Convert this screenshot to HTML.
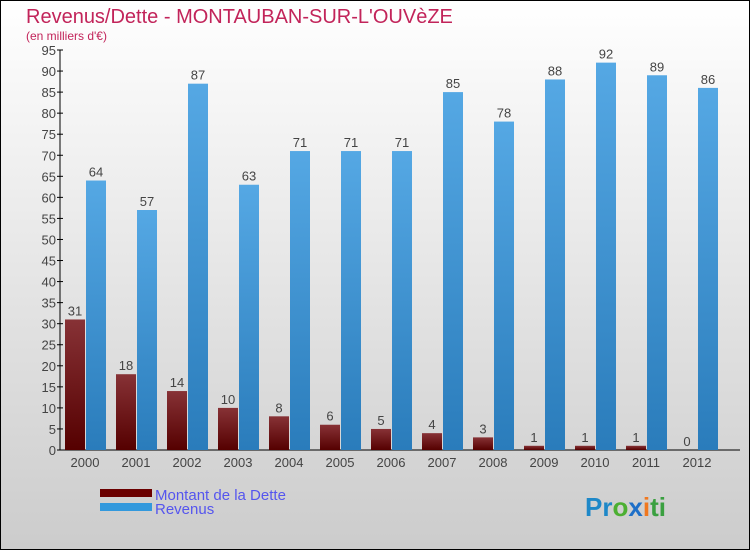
<!DOCTYPE html>
<html><head><meta charset="utf-8">
<style>
body{margin:0;}
#chart{position:relative;width:750px;height:550px;}
text{font-family:"Liberation Sans",sans-serif;}
</style></head>
<body>
<div id="chart">
<svg id="svg" width="750" height="550" xmlns="http://www.w3.org/2000/svg">
<defs>
<linearGradient id="bg" x1="0" y1="0" x2="0" y2="1"><stop offset="0" stop-color="#ffffff"/><stop offset="1" stop-color="#cccccc"/></linearGradient>
<linearGradient id="gd" x1="0" y1="0" x2="0" y2="1"><stop offset="0" stop-color="#873236"/><stop offset="1" stop-color="#550000"/></linearGradient>
<linearGradient id="gr" x1="0" y1="0" x2="0" y2="1"><stop offset="0" stop-color="#55a8e4"/><stop offset="1" stop-color="#2a7cbb"/></linearGradient>
</defs>
<rect x="0.5" y="0.5" width="749" height="549" fill="url(#bg)" stroke="#000"/>
<text x="26" y="23" font-size="20" fill="#c2245a">Revenus/Dette - MONTAUBAN-SUR-L'OUVèZE</text>
<text x="26" y="40" font-size="12" fill="#c2245a">(en milliers d'€)</text>
<g id="plot"></g>
<rect x="100" y="489" width="52" height="8" fill="#6b0000"/>
<text x="155" y="500" font-size="15" fill="#5555ee">Montant de la Dette</text>
<rect x="100" y="503" width="52" height="8" fill="#3399dd"/>
<text x="155" y="514" font-size="15" fill="#5555ee">Revenus</text>
<text x="585" y="516" font-size="26" font-weight="bold"><tspan fill="#1e88c8">Pr</tspan><tspan fill="#4caf32">o</tspan><tspan fill="#1e6fc8">x</tspan><tspan fill="#f07820">i</tspan><tspan fill="#3aa040">ti</tspan></text>
</svg>
</div>
<script>
const categories=["2000","2001","2002","2003","2004","2005","2006","2007","2008","2009","2010","2011","2012"];
const detteValues=[31,18,14,10,8,6,5,4,3,1,1,1,0];
const revenusValues=[64,57,87,63,71,71,71,85,78,88,92,89,86];
const yTicks=[0,5,10,15,20,25,30,35,40,45,50,55,60,65,70,75,80,85,90,95];
const NS="http://www.w3.org/2000/svg";
const g=document.getElementById('plot');
const y0=450,yTop=50,yMax=95,x0=60,step=51;
function yS(v){return y0-(v/yMax)*(y0-yTop);}
function xS(i){return x0+5+i*step;}
function mk(t,a){const e=document.createElementNS(NS,t);for(const k in a)e.setAttribute(k,a[k]);g.appendChild(e);return e;}
let ax=mk('line',{x1:x0,y1:yTop,x2:x0,y2:y0,stroke:'#000'});


let bx=mk('line',{x1:x0,y1:y0,x2:740,y2:y0,stroke:'#000'});


yTicks.forEach(v=>{
  const tk=mk('line',{x1:x0-3,y1:yS(v),x2:x0+3,y2:yS(v),stroke:'#000'});
  
  
  const t=mk('text',{x:x0-4,y:yS(v)+5,'font-size':13,fill:'#444','text-anchor':'end'});
  t.textContent=v;
  
  
});
categories.forEach((c,i)=>{
  const x=xS(i);
  const d=detteValues[i],r=revenusValues[i];
  const b1=mk('rect',{x:x,y:yS(d),width:20,height:y0-yS(d),fill:'url(#gd)'});
  
  
  const b2=mk('rect',{x:x+21,y:yS(r),width:20,height:y0-yS(r),fill:'url(#gr)'});
  
  
  const t1=mk('text',{x:x+10,y:yS(d)-4,'font-size':13,fill:'#444','text-anchor':'middle'});
  t1.textContent=d;
  
  
  const t2=mk('text',{x:x+31,y:yS(r)-4,'font-size':13,fill:'#444','text-anchor':'middle'});
  t2.textContent=r;
  
  
  const tl=mk('text',{x:x+20,y:467,'font-size':13,fill:'#444','text-anchor':'middle'});
  tl.textContent=c;
  
  
});
</script>
</body></html>
